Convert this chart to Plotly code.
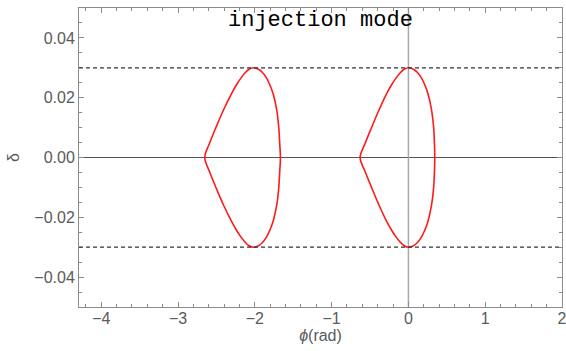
import plotly.graph_objects as go

# delta levels (upper half)
delta_levels = [0.0, 0.0047, 0.0102, 0.0158, 0.0213, 0.0245, 0.0268, 0.0285, 0.0295, 0.030]

# right bucket: phi on the left branch (cusp -> top) and right branch (delta=0 -> top)
right_left_branch = [-0.629, -0.564, -0.477, -0.385, -0.285, -0.215, -0.155, -0.100, -0.055, 0.0]
right_right_branch = [0.343, 0.339, 0.328, 0.302, 0.255, 0.210, 0.165, 0.115, 0.065, 0.0]

# left bucket
left_left_branch = [-2.652, -2.591, -2.504, -2.410, -2.305, -2.235, -2.175, -2.120, -2.075, -2.018]
left_right_branch = [-1.667, -1.676, -1.689, -1.714, -1.762, -1.808, -1.853, -1.903, -1.953, -2.018]

acceptance = [0.03, -0.03]
x_ticks = [-4, -3, -2, -1, 0, 1, 2]
y_ticks = [-0.04, -0.02, 0.0, 0.02, 0.04]
x_range = [-4.29, 2.0]
y_range = [-0.05, 0.05]


def closed_path(lb, rb, d):
    # cusp -> up left branch -> top -> down right branch -> rightmost -> bottom -> cusp
    xs, ys = [], []
    xs += lb; ys += d
    xs += rb[::-1][1:]; ys += d[::-1][1:]
    xs += rb[1:]; ys += [-v for v in d[1:]]
    xs += lb[::-1][1:]; ys += [-v for v in d[::-1][1:]]
    return xs, ys


fig = go.Figure()
for lb, rb in [(left_left_branch, left_right_branch), (right_left_branch, right_right_branch)]:
    xs, ys = closed_path(lb, rb, delta_levels)
    fig.add_trace(go.Scatter(x=xs, y=ys, mode="lines",
                             line=dict(color="#ff1a1a", width=1.6, shape="spline", smoothing=1.0),
                             showlegend=False, hoverinfo="skip"))
# empty trace to bind the mirrored frame axes
fig.add_trace(go.Scatter(x=[], y=[], xaxis="x2", yaxis="y2", showlegend=False, hoverinfo="skip"))

shapes = []
shapes.append(dict(type="line", xref="paper", yref="y", x0=0, x1=1, y0=0, y1=0,
                   line=dict(color="#555555", width=1), layer="below"))
shapes.append(dict(type="line", xref="x", yref="paper", x0=0, x1=0, y0=0, y1=1,
                   line=dict(color="#a8a8a8", width=1.5), layer="below"))
for a in acceptance:
    shapes.append(dict(type="line", xref="paper", yref="y", x0=0, x1=1, y0=a, y1=a,
                       line=dict(color="#333333", width=1.2, dash="4px,3px")))

axis_font = dict(family="Liberation Sans, Arial, sans-serif", size=16, color="#5a5a5a")
frame = "#8c8c8c"

fig.update_layout(
    width=566, height=351,
    margin=dict(l=79, r=4, t=8, b=44, autoexpand=False),
    paper_bgcolor="white", plot_bgcolor="white",
    shapes=shapes,
    font=axis_font,
    annotations=[dict(text="injection mode", x=0.5, y=1 - (21 - 8) / (351 - 8 - 44),
                      xref="paper", yref="paper",
                      yanchor="middle", xanchor="center", showarrow=False,
                      font=dict(family="Liberation Mono, Courier New, monospace", size=22, color="black"))],
    xaxis2=dict(overlaying="x", side="top", matches="x", range=x_range, tickvals=x_ticks,
                showticklabels=False, showgrid=False, zeroline=False, showline=False, automargin=False,
                ticks="inside", ticklen=5, tickcolor=frame,
                minor=dict(dtick=0.2, tick0=0, ticks="inside", ticklen=3, tickcolor=frame, showgrid=False)),
    yaxis2=dict(overlaying="y", side="right", matches="y", range=y_range, tickvals=y_ticks,
                showticklabels=False, showgrid=False, zeroline=False, showline=False, automargin=False,
                ticks="inside", ticklen=5, tickcolor=frame,
                minor=dict(dtick=0.005, tick0=0, ticks="inside", ticklen=3, tickcolor=frame, showgrid=False)),
)

fig.layout.xaxis.update(range=x_range, tickvals=x_ticks,
                        ticktext=[("−" + str(abs(v))) if v < 0 else str(v) for v in x_ticks],
                        ticklabeloverflow="allow", automargin=False, ticklabelstandoff=-3,
                        showgrid=False, zeroline=False, showline=True, linecolor=frame, linewidth=1,
                        mirror=True, ticks="inside", ticklen=5, tickcolor=frame,
                        minor=dict(dtick=0.2, tick0=0, ticks="inside", ticklen=3, tickcolor=frame, showgrid=False),
                        tickfont=axis_font,
                        title=dict(text="<i>ϕ</i>(rad)", font=axis_font, standoff=0))
fig.layout.yaxis.update(range=y_range, tickvals=y_ticks, tickformat=".2f", automargin=False,
                        showgrid=False, zeroline=False, showline=True, linecolor=frame, linewidth=1,
                        mirror=True, ticks="inside", ticklen=5, tickcolor=frame,
                        minor=dict(dtick=0.005, tick0=0, ticks="inside", ticklen=3, tickcolor=frame, showgrid=False),
                        tickfont=axis_font,
                        title=dict(text="δ", font=axis_font, standoff=10))

fig.write_html("out.html")
